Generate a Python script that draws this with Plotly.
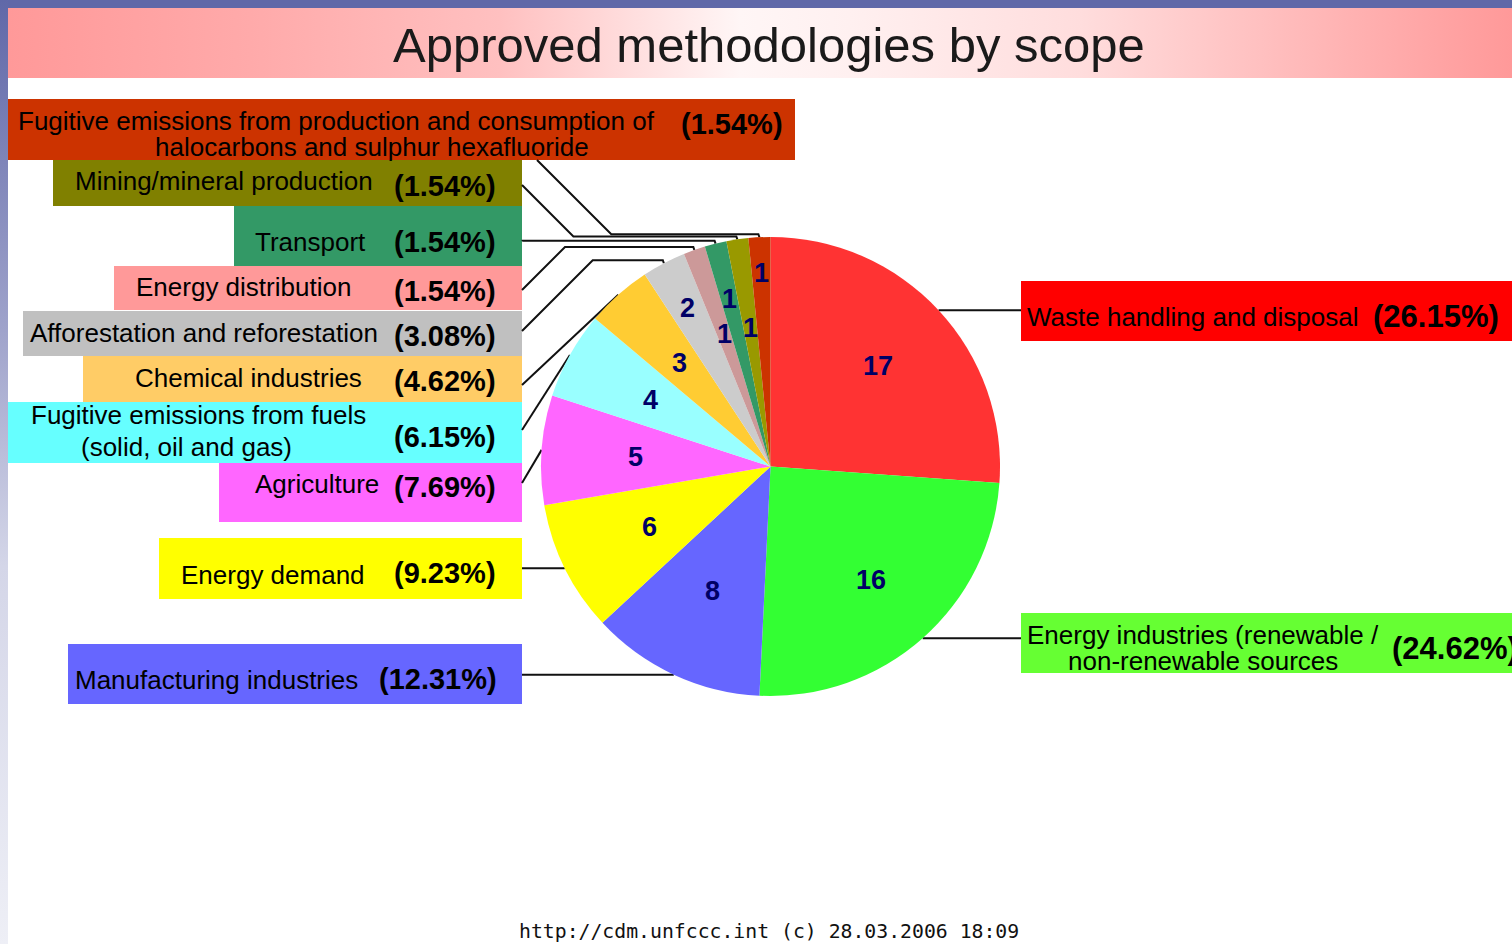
import math
import plotly.graph_objects as go

# ---------------- data ----------------
categories = [
    "Waste handling and disposal",
    "Energy industries (renewable / non-renewable sources",
    "Manufacturing industries",
    "Energy demand",
    "Agriculture",
    "Fugitive emissions from fuels (solid, oil and gas)",
    "Chemical industries",
    "Afforestation and reforestation",
    "Energy distribution",
    "Transport",
    "Mining/mineral production",
    "Fugitive emissions from production and consumption of halocarbons and sulphur hexafluoride",
]
counts = [17, 16, 8, 6, 5, 4, 3, 2, 1, 1, 1, 1]
pct_labels = ["(26.15%)", "(24.62%)", "(12.31%)", "(9.23%)", "(7.69%)", "(6.15%)",
              "(4.62%)", "(3.08%)", "(1.54%)", "(1.54%)", "(1.54%)", "(1.54%)"]
label_lines = [
    ["Waste handling and disposal"],
    ["Energy industries (renewable /", "non-renewable sources"],
    ["Manufacturing industries"],
    ["Energy demand"],
    ["Agriculture"],
    ["Fugitive emissions from fuels", "(solid, oil and gas)"],
    ["Chemical industries"],
    ["Afforestation and reforestation"],
    ["Energy distribution"],
    ["Transport"],
    ["Mining/mineral production"],
    ["Fugitive emissions from production and consumption of", "halocarbons and sulphur hexafluoride"],
]
title_text = "Approved methodologies by scope"
footer_text = "http://cdm.unfccc.int (c) 28.03.2006 18:09"

# ---------------- styles / layout ----------------
W, H = 1512, 944
FONT = "Liberation Sans"
slice_colors = ["#FF3333", "#33FF33", "#6666FF", "#FFFF00", "#FF66FF", "#99FFFF",
                "#FFCC33", "#CCCCCC", "#CC9999", "#339966", "#999900", "#CC3300"]
box_colors = ["#FF0000", "#66FF33", "#6666FF", "#FFFF00", "#FF66FF", "#66FFFF",
              "#FFCC66", "#C0C0C0", "#FF9999", "#339966", "#808000", "#CC3300"]
boxes = [(1021, 281, 1512, 341), (1021, 613, 1512, 673), (68, 644, 522, 704),
         (159, 538, 522, 599), (219, 463, 522, 522), (8, 402, 522, 463),
         (83, 356, 522, 402), (23, 311, 522, 356), (114, 266, 522, 310),
         (234, 206, 522, 266), (53, 160, 522, 206), (8, 99, 795, 160)]
# per label: anchor, list of (x, y) per line
text_pos = [
    ("left", [(1025, 317)]),
    ("center", [(1203, 635), (1203, 661)]),
    ("left", [(73, 680)]),
    ("left", [(179, 575)]),
    ("right", [(381, 484)]),
    ("center", [(198, 415), (186, 447)]),
    ("left", [(133, 378)]),
    ("left", [(28, 333)]),
    ("left", [(134, 287)]),
    ("right", [(368, 242)]),
    ("left", [(73, 181)]),
    ("center", [(336, 121), (372, 147)]),
]
pct_pos = [(1501, "right", 316, 31), (1390, "left", 648, 31), (499, "right", 679, 29),
           (498, "right", 573, 29), (498, "right", 487, 29), (498, "right", 437, 29),
           (498, "right", 381, 29), (498, "right", 336, 29), (498, "right", 291, 29),
           (498, "right", 242, 29), (498, "right", 186, 29), (785, "right", 124, 29)]
leader_start = [(1021, None, "h"), (1021, None, "h"), (522, None, "h"), (522, None, "h"),
                (522, 483, "s"), (522, 430, "s"), (522, 385, "s"), (522, 331, "e"),
                (522, 290, "e"), (522, 241, "e"), (522, 185, "e"), (537, 160, "e")]
# radial position (fraction of radius) of the count printed in each slice
count_radius = [0.64, 0.66, 0.6, 0.59, 0.59, 0.6, 0.6, 0.78, 0.61, 0.75, 0.61, 0.845]

CX, CY, R = 770.5, 466.5, 229.5

fig = go.Figure()

# background decorations (pixel axes)
fig.add_trace(go.Scatter(x=[0, W, W, 0, 0], y=[0, 0, 8, 8, 0], fill="toself", mode="none",
                         fillcolor="#6068A8", hoverinfo="skip", showlegend=False))
fig.add_trace(go.Scatter(x=[0, 8, 8, 0, 0], y=[0, 0, H, H, 0], fill="toself", mode="none",
                         fillgradient=dict(type="vertical", start=0, stop=H,
                                           colorscale=[[0, "#6068A8"], [0.35, "#9FA3CB"],
                                                       [0.6, "#D4D6E8"], [1, "#EEEFF6"]]),
                         hoverinfo="skip", showlegend=False))
band_stops = [(8, "#FF9999"), (250, "#FFAAAA"), (500, "#FFC0C0"), (650, "#FFE2E2"),
              (740, "#FFF6F6"), (850, "#FFF0F0"), (1080, "#FFDDDD"), (1210, "#FFC8C8"),
              (1400, "#FFAAAA"), (1512, "#FF9999")]
fig.add_trace(go.Scatter(x=[8, W, W, 8, 8], y=[8, 8, 78, 78, 8], fill="toself", mode="none",
                         fillgradient=dict(type="horizontal", start=8, stop=W,
                                           colorscale=[[(x - 8) / (W - 8), c] for x, c in band_stops]),
                         hoverinfo="skip", showlegend=False))

annotations = []

# leader lines and slice counts computed from slice angles
total = sum(counts)
cum = 0
for i, c in enumerate(counts):
    mid = (cum + c / 2) / total * 2 * math.pi
    cum += c
    ex = CX + R * math.sin(mid)
    ey = CY - R * math.cos(mid)
    sx, sy, route = leader_start[i]
    if route == "h":
        xs, ys = [sx, ex], [ey, ey]
    elif route == "s":
        xs, ys = [sx, ex], [sy, ey]
    else:
        h = ey - 3
        elbow_x = sx + abs(sy - h)
        xs, ys = [sx, elbow_x, ex - 1, ex], [sy, h, h, ey]
    fig.add_trace(go.Scatter(x=xs, y=ys, mode="lines", line=dict(color="#111111", width=2),
                             hoverinfo="skip", showlegend=False))
    rr = count_radius[i] * R
    annotations.append(dict(xref="x", yref="y", x=CX + rr * math.sin(mid), y=CY - rr * math.cos(mid),
                            text=str(c), showarrow=False, xanchor="center", yanchor="middle",
                            font=dict(family=FONT, size=27, color="#000066", weight="bold")))

# pie
fig.add_trace(go.Pie(
    values=counts, labels=categories, textinfo="none",
    sort=False, direction="clockwise", rotation=0,
    marker=dict(colors=slice_colors, line=dict(width=0)),
    domain=dict(x=[(CX - R) / W, (CX + R) / W], y=[1 - (CY + R) / H, 1 - (CY - R) / H]),
    hoverinfo="skip", showlegend=False,
))

shapes = []
for i in range(len(categories)):
    x0, y0, x1, y1 = boxes[i]
    shapes.append(dict(type="rect", xref="x", yref="y", x0=x0, y0=y0, x1=x1, y1=y1,
                       fillcolor=box_colors[i], line=dict(width=0), layer="below"))
    anchor, lines = text_pos[i]
    for (tx, ty), line in zip(lines, label_lines[i]):
        annotations.append(dict(xref="x", yref="y", x=tx, y=ty, text=line, showarrow=False,
                                xanchor=anchor, yanchor="middle",
                                font=dict(family=FONT, size=26, color="#000000")))
    px_, pa, py_, ps = pct_pos[i]
    annotations.append(dict(xref="x", yref="y", x=px_, y=py_, text=pct_labels[i], showarrow=False,
                            xanchor=pa, yanchor="middle",
                            font=dict(family=FONT, size=ps, color="#000000", weight="bold")))

annotations.append(dict(xref="x", yref="y", x=769, y=45, text=title_text, showarrow=False,
                        xanchor="center", yanchor="middle",
                        font=dict(family=FONT, size=49, color="#1A1A1A")))
annotations.append(dict(xref="x", yref="y", x=769, y=931, text=footer_text, showarrow=False,
                        xanchor="center", yanchor="middle",
                        font=dict(family="DejaVu Sans Mono", size=19.8, color="#111111")))

fig.update_layout(
    width=W, height=H, margin=dict(l=0, r=0, t=0, b=0),
    paper_bgcolor="white", plot_bgcolor="white", showlegend=False,
    xaxis=dict(range=[0, W], visible=False, fixedrange=True, domain=[0, 1]),
    yaxis=dict(range=[H, 0], visible=False, fixedrange=True, domain=[0, 1]),
    shapes=shapes, annotations=annotations,
)

fig.write_html("out.html", config={"displayModeBar": False},
               post_script="document.body.style.margin='0';document.body.style.overflow='hidden';")
